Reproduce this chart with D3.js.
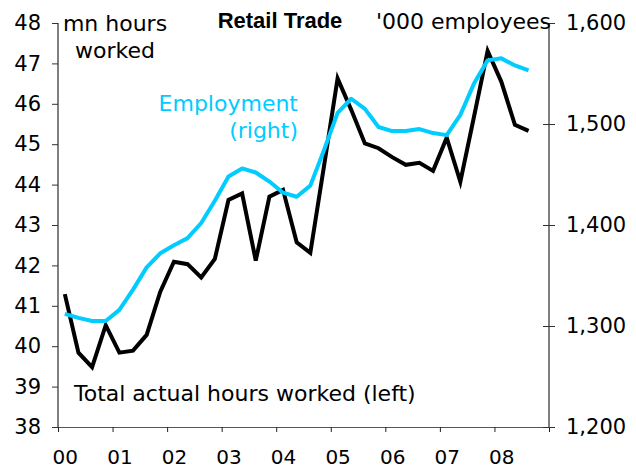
<!DOCTYPE html>
<html>
<head>
<meta charset="utf-8">
<script src="https://cdn.jsdelivr.net/npm/d3@7"></script>
<style>
	body { margin: 0; background: #fff; }
	svg { display: block; }
	text { font-family: "DejaVu Sans", Verdana, sans-serif; fill: #000; }
</style>
</head>
<body>
<div class="chart"></div>
<script>
(function () {

	// quarterly, 2000Q1 .. 2008Q3
	var quarters = ["2000Q1","2000Q2","2000Q3","2000Q4","2001Q1","2001Q2","2001Q3","2001Q4",
		"2002Q1","2002Q2","2002Q3","2002Q4","2003Q1","2003Q2","2003Q3","2003Q4",
		"2004Q1","2004Q2","2004Q3","2004Q4","2005Q1","2005Q2","2005Q3","2005Q4",
		"2006Q1","2006Q2","2006Q3","2006Q4","2007Q1","2007Q2","2007Q3","2007Q4",
		"2008Q1","2008Q2","2008Q3"];

	// mn hours worked (left axis)
	var hours = [41.29, 39.84, 39.48, 40.52, 39.84, 39.89, 40.28, 41.35,
		42.09, 42.03, 41.70, 42.16, 43.62, 43.78, 42.12, 43.70,
		43.87, 42.57, 42.31, 44.45, 46.63, 45.85, 45.02, 44.90,
		44.68, 44.49, 44.54, 44.34, 45.16, 44.07, 45.68, 47.31,
		46.55, 45.48, 45.33];

	// '000 employees (right axis)
	var employment = [1312, 1308, 1305, 1305, 1316, 1336, 1358, 1372,
		1380, 1387, 1402, 1424, 1448, 1456, 1452, 1443,
		1432, 1428, 1439, 1474, 1511, 1525, 1515, 1497,
		1493, 1493, 1495, 1491, 1489, 1509, 1540, 1563,
		1565, 1558, 1553];

	var years = [2000, 2001, 2002, 2003, 2004, 2005, 2006, 2007, 2008];
	var leftTicks = [38, 39, 40, 41, 42, 43, 44, 45, 46, 47, 48];
	var rightTicks = [1200, 1300, 1400, 1500, 1600];

	var width = 636, height = 468;
	var left = 58, right = 549, top = 23, bottom = 427;

	var svg = d3.select(".chart").append("svg")
		.attr("width", width)
		.attr("height", height);

	// position of a quarter: year + centre of the quarter
	function qpos(q) {
		return +q.slice(0, 4) + (+q.slice(5) - 0.5) / 4;
	}

	var x = d3.scaleLinear().domain([2000, 2009]).range([left, right]);
	var yL = d3.scaleLinear().domain([38, 48]).range([bottom, top]);
	var yR = d3.scaleLinear().domain([1200, 1600]).range([bottom, top]);

	// bottom axis: tick marks at year boundaries
	var xTicks = svg.append("g")
		.attr("transform", "translate(0," + bottom + ")")
		.call(d3.axisBottom(x).tickValues(d3.range(2000, 2010)).tickSize(5).tickFormat(""));
	xTicks.select(".domain").attr("stroke", "#555");
	xTicks.selectAll(".tick line").attr("stroke", "#222");

	// year labels sit on the first quarter
	var xLabels = svg.append("g")
		.attr("transform", "translate(0," + bottom + ")")
		.call(d3.axisBottom(x)
			.tickValues(years.map(function (d) { return d + 0.125; }))
			.tickSize(0).tickPadding(23)
			.tickFormat(function (d) { return String(Math.floor(d) % 100).padStart(2, "0"); }));
	xLabels.select(".domain").remove();
	xLabels.selectAll("text")
		.attr("dy", null).attr("y", 37)
		.style("font-size", "20px").style("font-family", "DejaVu Sans").attr("fill", "#000");

	var yLeft = svg.append("g")
		.attr("transform", "translate(" + left + ",0)")
		.call(d3.axisLeft(yL).tickValues(leftTicks).tickSize(6).tickPadding(11));
	yLeft.select(".domain").attr("d", "M0," + top + "V" + bottom).attr("stroke", "#000");
	yLeft.selectAll(".tick line").attr("stroke", "#333");
	yLeft.selectAll("text").style("font-size", "21px").style("font-family", "DejaVu Sans").attr("fill", "#000");

	var yRight = svg.append("g")
		.attr("transform", "translate(" + right + ",0)")
		.call(d3.axisRight(yR).tickValues(rightTicks).tickSize(6).tickPadding(11)
			.tickFormat(d3.format(",")));
	yRight.select(".domain").attr("d", "M0," + top + "V" + bottom).attr("stroke", "#000");
	yRight.selectAll(".tick line").attr("x1", -6).attr("stroke", "#333");
	yRight.selectAll("text").style("font-size", "21px").style("font-family", "DejaVu Sans").attr("fill", "#000");

	var lineL = d3.line()
		.x(function (d, i) { return x(qpos(quarters[i])); })
		.y(function (d) { return yL(d); });
	var lineR = d3.line()
		.x(function (d, i) { return x(qpos(quarters[i])); })
		.y(function (d) { return yR(d); });

	svg.append("path")
		.datum(hours)
		.attr("fill", "none")
		.attr("stroke", "#000")
		.attr("stroke-width", 4)
		.attr("stroke-linejoin", "miter")
		.attr("d", lineL);

	svg.append("path")
		.datum(employment)
		.attr("fill", "none")
		.attr("stroke", "#00CCFF")
		.attr("stroke-width", 4)
		.attr("stroke-linejoin", "round")
		.attr("d", lineR);

	// labels
	svg.append("text").attr("x", 280).attr("y", 28)
		.attr("text-anchor", "middle")
		.style("font-family", "'Liberation Sans', Arial, sans-serif")
		.style("font-weight", "bold").style("font-size", "22px")
		.text("Retail Trade");

	svg.append("text").attr("x", 115).attr("y", 31)
		.attr("text-anchor", "middle").style("font-size", "22px").text("mn hours");
	svg.append("text").attr("x", 115).attr("y", 58)
		.attr("text-anchor", "middle").style("font-size", "22px").text("worked");

	svg.append("text").attr("x", 551).attr("y", 29)
		.attr("text-anchor", "end").style("font-size", "22px").text("'000 employees");

	svg.append("text").attr("x", 298).attr("y", 111)
		.attr("text-anchor", "end").style("font-size", "22px")
		.style("fill", "#00CCFF").text("Employment");
	svg.append("text").attr("x", 298).attr("y", 138)
		.attr("text-anchor", "end").style("font-size", "22px")
		.style("fill", "#00CCFF").text("(right)");

	svg.append("text").attr("x", 74).attr("y", 401)
		.style("font-size", "22px").text("Total actual hours worked (left)");

})();
</script>
</body>
</html>
